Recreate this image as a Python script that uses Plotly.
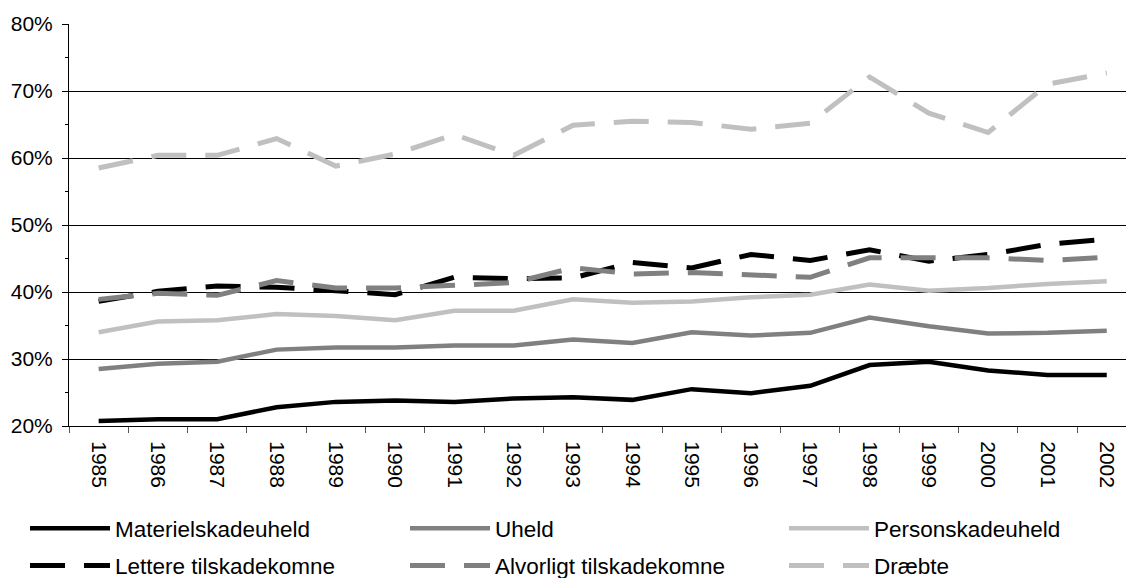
import plotly.graph_objects as go

years = [str(y) for y in range(1985, 2003)]

materielskadeuheld = [20.75, 21.0, 21.0, 22.8, 23.6, 23.8, 23.6, 24.1, 24.3, 23.9, 25.5, 24.9, 26.0, 29.1, 29.6, 28.3, 27.6, 27.6]
uheld = [28.5, 29.3, 29.6, 31.4, 31.7, 31.7, 32.0, 32.0, 32.9, 32.4, 34.0, 33.5, 33.9, 36.2, 34.9, 33.8, 33.9, 34.2]
personskadeuheld = [34.0, 35.6, 35.8, 36.7, 36.4, 35.8, 37.2, 37.2, 38.9, 38.4, 38.6, 39.2, 39.6, 41.1, 40.2, 40.6, 41.2, 41.6]
lettere = [38.6, 40.1, 40.9, 40.7, 40.2, 39.6, 42.2, 42.0, 42.1, 44.4, 43.6, 45.6, 44.7, 46.3, 44.6, 45.6, 47.1, 47.9]
alvorligt = [38.9, 39.8, 39.5, 41.7, 40.6, 40.6, 41.0, 41.4, 43.6, 42.7, 42.9, 42.6, 42.2, 45.1, 45.1, 45.1, 44.7, 45.2]
draebte = [58.5, 60.4, 60.4, 62.9, 58.8, 60.6, 63.5, 60.4, 64.9, 65.5, 65.3, 64.3, 65.2, 72.1, 66.7, 63.8, 71.0, 72.7]

series = [
    ("Materielskadeuheld", materielskadeuheld, "#000000", "solid", 4.5, "legend"),
    ("Uheld", uheld, "#808080", "solid", 4.5, "legend2"),
    ("Personskadeuheld", personskadeuheld, "#c0c0c0", "solid", 4.5, "legend3"),
    ("Lettere tilskadekomne", lettere, "#000000", "35px,19px", 5, "legend"),
    ("Alvorligt tilskadekomne", alvorligt, "#808080", "35px,19px", 5, "legend2"),
    ("Dræbte", draebte, "#c0c0c0", "35px,19px", 5, "legend3"),
]

FONT = "Liberation Sans, Arial, sans-serif"

fig = go.Figure()
for name, vals, color, dash, w, lg in series:
    fig.add_trace(go.Scatter(
        x=years, y=[v / 100 for v in vals], name=name, mode="lines",
        line=dict(color=color, dash=dash, width=w),
        legend=lg, legendgroup=name,
    ))

W, H = 1126, 578
ML, MR, MT, MB = 69, 0, 24, 152
pw = W - ML - MR
ph = H - MT - MB

def px_x(px):
    return (px - ML) / pw

def px_y(py):
    return (H - MB - py) / ph

legend_common = dict(
    orientation="v", xanchor="left", yanchor="top",
    font=dict(family=FONT, size=22.5, color="#000000"),
    itemwidth=80, bgcolor="rgba(0,0,0,0)", borderwidth=0,
    tracegroupgap=5, traceorder="grouped",
)

fig.update_layout(
    width=W, height=H,
    margin=dict(l=ML, r=MR, t=MT, b=MB, pad=0, autoexpand=False),
    paper_bgcolor="white", plot_bgcolor="white",
    font=dict(family=FONT, size=20, color="#000000"),
    showlegend=True,
    legend=dict(x=px_x(25), y=px_y(507), **legend_common),
    legend2=dict(x=px_x(405), y=px_y(507), **legend_common),
    legend3=dict(x=px_x(784), y=px_y(507), **legend_common),
    xaxis=dict(
        type="category", range=[-0.5, -0.5 + pw / 59.3],
        tickson="boundaries", ticks="outside", ticklen=6, tickcolor="#555555",
        tickangle=90, showgrid=False, showline=True, linecolor="#000000",
        linewidth=1, tickfont=dict(family=FONT, size=21, color="#000000"),
        ticklabelstandoff=10, ticklabeloverflow="allow", automargin=False,
        fixedrange=True,
    ),
    yaxis=dict(
        range=[0.2, 0.8], dtick=0.1, tick0=0.2, tickformat=".0%",
        showgrid=True, gridcolor="#000000", gridwidth=1,
        showline=True, linecolor="#000000", linewidth=1,
        ticks="outside", ticklen=6, tickcolor="#000000",
        minor=dict(dtick=0.05, ticks="outside", ticklen=3, tickcolor="#000000", showgrid=False),
        tickfont=dict(family=FONT, size=21, color="#000000"),
        ticklabelstandoff=5, ticklabeloverflow="allow", automargin=False,
        zeroline=False, fixedrange=True,
    ),
)

fig.write_html(
    "out.html",
    config={"displayModeBar": False},
    post_script="document.body.style.margin='0';document.body.style.padding='0';document.body.style.overflow='hidden';",
)
